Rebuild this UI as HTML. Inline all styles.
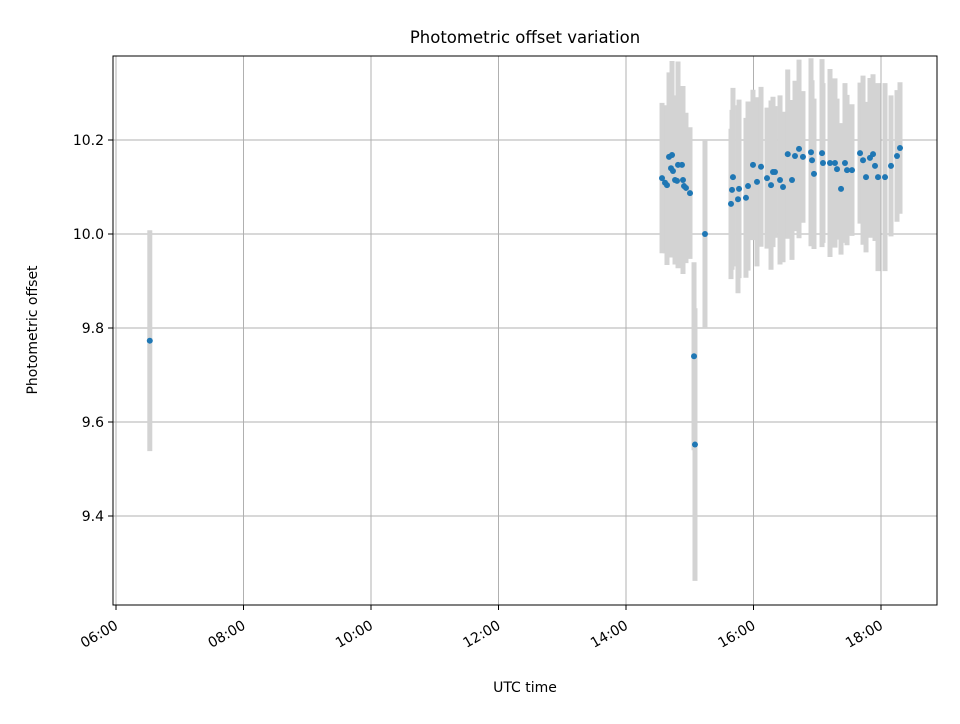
<!DOCTYPE html>
<html><head><meta charset="utf-8"><style>
body{margin:0;background:#fff;font-family:"DejaVu Sans","Liberation Sans",sans-serif}
text{font-family:"DejaVu Sans","Liberation Sans",sans-serif}
</style></head><body>
<svg id="chart" width="960" height="720" xmlns="http://www.w3.org/2000/svg">
<rect width="960" height="720" fill="#fff"/>
<g id="grid"></g><g id="errs"></g><g id="pts"></g>
<rect x="113" y="56" width="824" height="549" fill="none" stroke="#000" stroke-width="1"/>
<g id="axes"></g>
<text x="525" y="43" text-anchor="middle" font-size="16.5">Photometric offset variation</text>
<text x="525" y="692" text-anchor="middle" font-size="14">UTC time</text>
<text transform="translate(37,330) rotate(-90)" text-anchor="middle" font-size="14">Photometric offset</text>
</svg>
<script>
const times=[6.53,14.565,14.612,14.643,14.675,14.722,14.706,14.737,14.769,14.8,14.816,14.878,14.91,14.894,14.941,15.004,15.067,15.082,15.239,15.647,15.663,15.678,15.757,15.773,15.882,15.914,15.992,16.055,16.118,16.212,16.275,16.306,16.337,16.416,16.463,16.537,16.604,16.651,16.714,16.776,16.902,16.918,16.949,17.075,17.09,17.2,17.278,17.31,17.373,17.435,17.467,17.545,17.671,17.718,17.765,17.827,17.875,17.906,17.953,18.063,18.157,18.251,18.298];
const values=[9.773,10.119,10.109,10.104,10.164,10.168,10.140,10.134,10.115,10.113,10.147,10.147,10.102,10.115,10.098,10.087,9.740,9.552,10.0,10.064,10.094,10.121,10.074,10.096,10.077,10.102,10.147,10.111,10.143,10.119,10.104,10.132,10.132,10.115,10.100,10.170,10.115,10.166,10.181,10.164,10.174,10.157,10.128,10.172,10.151,10.151,10.151,10.138,10.096,10.151,10.136,10.136,10.172,10.157,10.121,10.162,10.170,10.145,10.121,10.121,10.145,10.166,10.183];
const errors=[0.235,0.16,0.15,0.17,0.18,0.2,0.19,0.16,0.18,0.17,0.22,0.15,0.14,0.2,0.16,0.14,0.2,0.29,0.2,0.16,0.17,0.19,0.2,0.19,0.17,0.18,0.16,0.18,0.17,0.15,0.18,0.16,0.14,0.18,0.16,0.18,0.17,0.16,0.19,0.14,0.2,0.17,0.16,0.2,0.17,0.2,0.18,0.15,0.14,0.17,0.16,0.14,0.15,0.18,0.16,0.17,0.17,0.16,0.2,0.2,0.15,0.14,0.14];
const xTicks=[6,8,10,12,14,16,18];
const xTickLabels=["06:00","08:00","10:00","12:00","14:00","16:00","18:00"];
const yTicks=[9.4,9.6,9.8,10.0,10.2];
const yTickLabels=["9.4","9.6","9.8","10.0","10.2"];
const NS="http://www.w3.org/2000/svg";
const X=h=>116+(h-6)*63.75;
const Y=v=>234-(v-10)*470;
function mk(tag,attrs,parent,txt){const e=document.createElementNS(NS,tag);for(const k in attrs)e.setAttribute(k,attrs[k]);if(txt!==undefined)e.textContent=txt;document.getElementById(parent).appendChild(e);return e;}
xTicks.forEach((t,i)=>{
  const x=X(t);
  const g=mk('line',{x1:x,x2:x,y1:56,y2:605,stroke:'#b0b0b0','stroke-width':1},'grid');
  
  
  const tk=mk('line',{x1:x,x2:x,y1:605,y2:610,stroke:'#000'},'axes');
  
  
  const lx=x+3, ly=628;
  const l=mk('text',{x:lx,y:ly,'text-anchor':'end','font-size':14,transform:`rotate(-30 ${lx} ${ly})`},'axes',xTickLabels[i]);
  
  
});
yTicks.forEach((t,i)=>{
  const y=Y(t);
  const g=mk('line',{x1:113,x2:937,y1:y,y2:y,stroke:'#b0b0b0','stroke-width':1},'grid');
  
  
  const tk=mk('line',{x1:108,x2:113,y1:y,y2:y,stroke:'#000'},'axes');
  
  
  const l=mk('text',{x:104,y:y+5,'text-anchor':'end','font-size':14},'axes',yTickLabels[i]);
  
  
});
times.forEach((t,i)=>{
  const x=X(t);
  const e=mk('line',{x1:x,x2:x,y1:Y(values[i]+errors[i]),y2:Y(values[i]-errors[i]),stroke:'#d3d3d3','stroke-width':5},'errs');
  
  
});
times.forEach((t,i)=>{
  const c=mk('circle',{cx:X(t),cy:Y(values[i]),r:3,fill:'#1f77b4'},'pts');
  
  
});
</script>
</body></html>
